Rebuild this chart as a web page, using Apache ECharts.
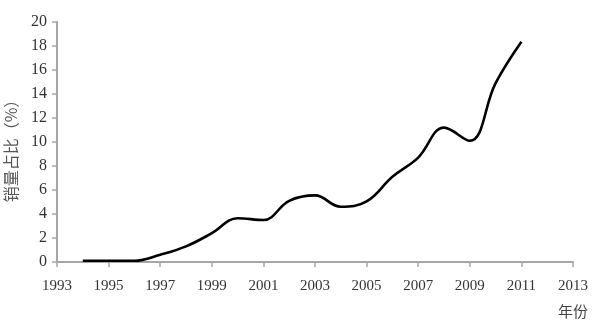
<!DOCTYPE html>
<html>
<head>
<meta charset="utf-8">
<script src="https://cdn.jsdelivr.net/npm/echarts@6/dist/echarts.min.js"></script>
<style>
  html, body { margin: 0; padding: 0; background: #fff; }
  #chart { width: 597px; height: 325px; }
</style>
</head>
<body>
<div id="chart"></div>
<script>
// Share of sales by year
const years = [1994, 1995, 1996, 1997, 1998, 1999, 2000, 2001, 2002, 2003, 2004, 2005, 2006, 2007, 2008, 2009, 2010, 2011];
const shares = [0.1, 0.1, 0.1, 0.6, 1.3, 2.4, 3.65, 3.5, 5.1, 5.55, 4.6, 5.05, 7.1, 8.7, 11.2, 10.1, 14.9, 18.35];
const baseYear = 1993;
const yearSpan = 20;
const yTicks = [0, 2, 4, 6, 8, 10, 12, 14, 16, 18, 20];

const serif = '"Liberation Serif", "DejaVu Serif", serif';
const cjk = '"Noto Sans CJK SC", sans-serif';
const axisGray = '#a6a6a6';

const chart = echarts.init(document.getElementById('chart'));
chart.setOption({
  animation: false,
  grid: { left: 57, right: 24, top: 22, bottom: 63, containLabel: false, outerBoundsMode: 'none' },
  graphic: [{
    type: 'text',
    left: 558,
    top: 304,
    style: { text: '年份', font: '15px ' + cjk, fill: '#444' }
  }],
  xAxis: {
    type: 'value',
    min: 0,
    max: yearSpan,
    interval: 2,
    axisLine: { show: true, lineStyle: { color: axisGray, width: 2 } },
    axisTick: { show: true, length: 5, lineStyle: { color: axisGray, width: 1.5 } },
    axisLabel: { fontFamily: serif, fontSize: 15, color: '#333', margin: 17, formatter: v => String(baseYear + v) },
    splitLine: { show: false }
  },
  yAxis: {
    type: 'value',
    min: yTicks[0],
    max: yTicks[yTicks.length - 1],
    interval: 2,
    name: '销量占比（%）',
    nameLocation: 'middle',
    nameRotate: 90,
    nameGap: 38,
    nameTextStyle: { fontFamily: cjk, fontSize: 16, color: '#555', padding: [0, 10, 0, 0] },
    axisLine: { show: true, lineStyle: { color: axisGray, width: 2 } },
    axisTick: { show: true, length: 5, lineStyle: { color: axisGray, width: 1.5 } },
    axisLabel: { fontFamily: serif, fontSize: 16, color: '#333', margin: 10 },
    splitLine: { show: false }
  },
  series: [{
    type: 'line',
    data: years.map((y, i) => [y - baseYear, shares[i]]),
    smooth: 0.4,
    showSymbol: false,
    lineStyle: { color: '#000', width: 2.6 }
  }]
});
</script>
</body>
</html>
